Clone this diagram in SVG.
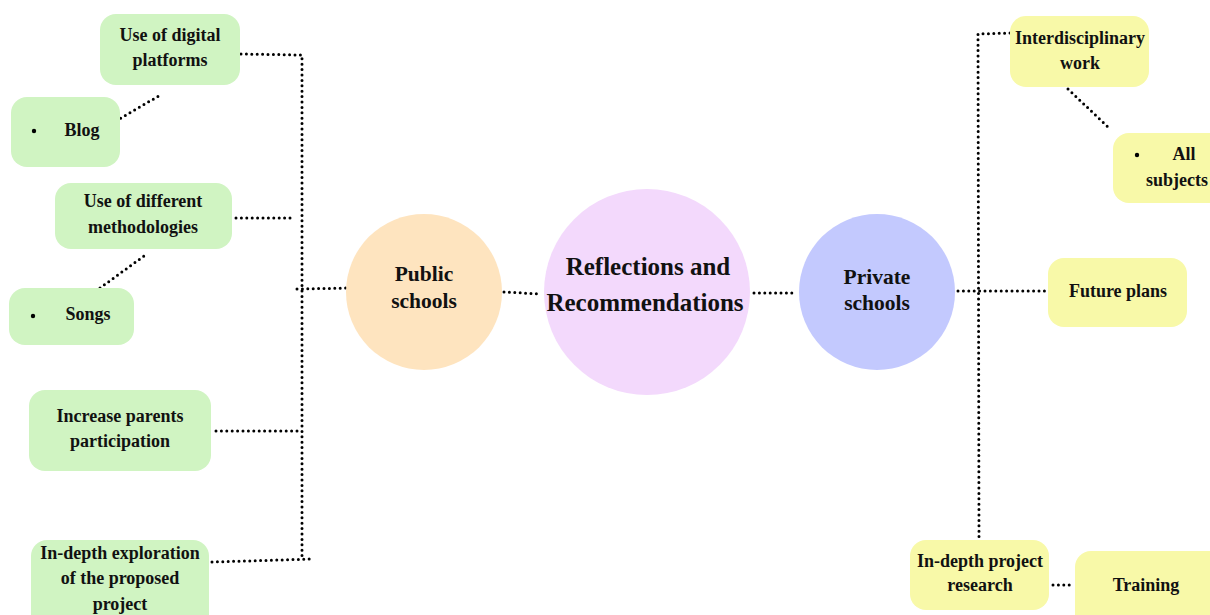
<svg xmlns="http://www.w3.org/2000/svg" width="1210" height="615" viewBox="0 0 1210 615">
<style>
.g{fill:#d0f4c2}
.y{fill:#f8f9a8}
text{font-family:'Liberation Serif','DejaVu Serif',serif;font-weight:700;font-size:18px;fill:#111;text-anchor:middle}
.c{font-size:21.5px}
.big{font-size:25px}
.d{fill:none;stroke:#000;stroke-width:3;stroke-linecap:round;stroke-dasharray:0 5.4}
</style>
<rect width="1210" height="615" fill="#fff"/>
<g id="connectors">
<path class="d" d="M241 54 L302 55 L302 556"/>
<path class="d" d="M116 121 L162 94"/>
<path class="d" d="M236 218 L293 218"/>
<path class="d" d="M100 288 L144 256"/>
<path class="d" d="M297 289 L350 288"/>
<path class="d" d="M216 431 L300 431"/>
<path class="d" d="M212 562 L313 559"/>
<path class="d" d="M504 292 L541 294"/>
<path class="d" d="M754 293 L797 293"/>
<path class="d" d="M958 291 L1046 291"/>
<path class="d" d="M1010 33 L978 34 L979 538"/>
<path class="d" d="M1068 89 L1108 127"/>
<path class="d" d="M1053 585 L1073 585"/>
</g>
<g id="digital"><rect class="g" x="100" y="14" width="140" height="71" rx="16"/><text x="170" y="41">Use of digital</text><text x="170" y="66">platforms</text></g>
<g id="blog"><rect class="g" x="11" y="97" width="109" height="70" rx="16"/><circle cx="34" cy="131" r="2.2" fill="#000"/><text x="82" y="136">Blog</text></g>
<g id="methodologies"><rect class="g" x="55" y="183" width="177" height="66" rx="16"/><text x="143" y="207">Use of different</text><text x="143" y="233">methodologies</text></g>
<g id="songs"><rect class="g" x="9" y="288" width="125" height="57" rx="16"/><circle cx="33" cy="316" r="2.2" fill="#000"/><text x="88" y="320">Songs</text></g>
<g id="parents"><rect class="g" x="29" y="390" width="182" height="81" rx="16"/><text x="120" y="422">Increase parents</text><text x="120" y="447">participation</text></g>
<g id="exploration"><rect class="g" x="31" y="540" width="178" height="90" rx="16"/><text x="120" y="559">In-depth exploration</text><text x="120" y="584">of the proposed</text><text x="120" y="610">project</text></g>
<g id="public"><circle cx="424" cy="292" r="78" fill="#fee4bf"/><text class="c" x="424" y="281">Public</text><text class="c" x="424" y="308">schools</text></g>
<g id="reflections"><circle cx="647" cy="292" r="103" fill="#f3d9fc"/><text class="big" x="648" y="275">Reflections and</text><text class="big" x="645" y="311">Recommendations</text></g>
<g id="private"><circle cx="877" cy="292" r="78" fill="#c3c9fe"/><text class="c" x="877" y="284">Private</text><text class="c" x="877" y="310">schools</text></g>
<g id="interdisciplinary"><rect class="y" x="1010" y="16" width="139" height="71" rx="16"/><text x="1080" y="44">Interdisciplinary</text><text x="1080" y="69">work</text></g>
<g id="allsubjects"><rect class="y" x="1113" y="133" width="120" height="70" rx="16"/><circle cx="1137" cy="155" r="2.2" fill="#000"/><text x="1184" y="160">All</text><text x="1177" y="186">subjects</text></g>
<g id="future"><rect class="y" x="1048" y="258" width="139" height="69" rx="16"/><text x="1118" y="297">Future plans</text></g>
<g id="research"><rect class="y" x="910" y="540" width="139" height="70" rx="16"/><text x="980" y="567">In-depth project</text><text x="980" y="591">research</text></g>
<g id="training"><rect class="y" x="1075" y="551" width="150" height="80" rx="16"/><text x="1146" y="591">Training</text></g>
</svg>
